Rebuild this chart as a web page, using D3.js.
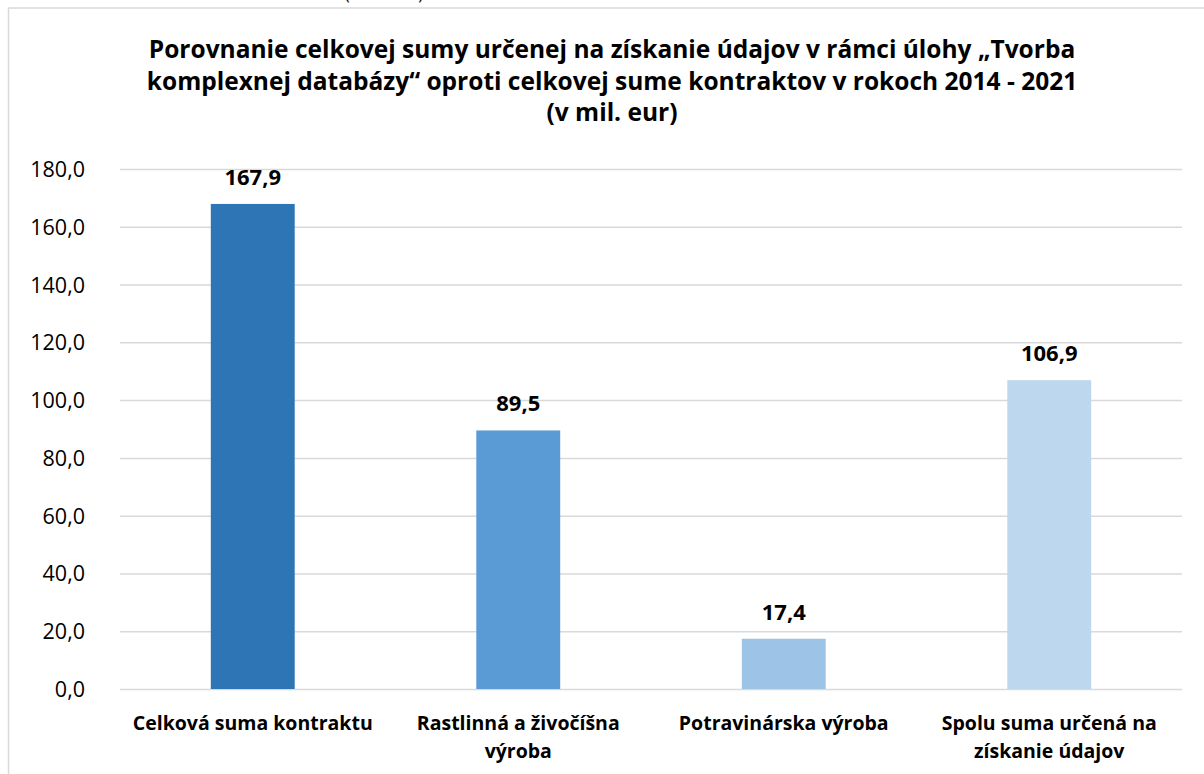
<!DOCTYPE html>
<html>
<head>
<meta charset="utf-8">
<script src="https://cdn.jsdelivr.net/npm/d3@7"></script>
<style>
  body { margin: 0; background: #fff; }
  svg text { font-family: "Open Sans", "Noto Sans", "Liberation Sans", sans-serif; fill: #000; }
</style>
</head>
<body>
<div id="chart"></div>
<script>
var categories = ['Celková suma kontraktu', 'Rastlinná a živočíšna výroba', 'Potravinárska výroba', 'Spolu suma určená na získanie údajov'];
var categoryLines = [['Celková suma kontraktu'], ['Rastlinná a živočíšna', 'výroba'], ['Potravinárska výroba'], ['Spolu suma určená na', 'získanie údajov']];
var values = [167.9, 89.5, 17.4, 106.9];
var barColors = ['#2E75B6', '#5B9BD5', '#9DC3E6', '#BDD7EE'];
var yTicks = [0, 20, 40, 60, 80, 100, 120, 140, 160, 180];
var titleLines = ['Porovnanie celkovej sumy určenej na získanie údajov v rámci úlohy „Tvorba', 'komplexnej databázy“ oproti celkovej sume kontraktov v rokoch 2014 - 2021', '(v mil. eur)'];

var W = 1204, H = 774;
var margin = {top: 169, right: 22, bottom: 85, left: 120};
var width = W - margin.left - margin.right;
var height = H - margin.top - margin.bottom;

var fmt = function(v){ return d3.format('.1f')(v).replace('.', ','); };

var root = d3.select('#chart').append('svg')
  .attr('width', W).attr('height', H);

// chart frame
root.append('rect')
  .attr('x', 8.5).attr('y', 8)
  .attr('width', W + 10).attr('height', H + 10)
  .attr('fill', 'none').attr('stroke', '#d9d9d9').attr('stroke-width', 1.5);

// text from the page above, cut off by the picture edge
root.append('text')
  .attr('x', 384).attr('y', 0)
  .attr('text-anchor', 'middle')
  .style('font-size', '16px')
  .text('(v mil. eur)');

root.selectAll('.title')
  .data(titleLines)
  .enter().append('text')
  .attr('class', 'title')
  .attr('x', 612)
  .attr('y', function(d, i){ return 58 + i * 31.5; })
  .attr('text-anchor', 'middle')
  .style('font-size', '24.5px').style('font-weight', 'bold')
  .text(function(d){ return d; });

var svg = root.append('g')
  .attr('transform', 'translate(' + margin.left + ',' + margin.top + ')');

var x = d3.scaleBand()
  .domain(categories)
  .range([0, width])
  .paddingInner(0.684)
  .paddingOuter(0.342);

var y = d3.scaleLinear()
  .domain([0, 180])
  .range([height, 0]);

// gridlines
svg.append('g')
  .attr('class', 'grid')
  .call(d3.axisLeft(y).tickValues(yTicks).tickSize(-width).tickFormat(''))
  .call(function(g){ g.select('.domain').remove(); })
  .selectAll('line')
  .attr('stroke', '#d9d9d9').attr('stroke-width', 1.5);

// y tick labels
svg.append('g')
  .call(d3.axisLeft(y).tickValues(yTicks).tickSize(0).tickPadding(35).tickFormat(fmt))
  .call(function(g){ g.select('.domain').remove(); })
  .selectAll('text')
  .style('font-size', '21.5px')
  .attr('dy', '0.35em');

// bars
svg.selectAll('.bar')
  .data(values)
  .enter().append('rect')
  .attr('class', 'bar')
  .attr('x', function(d, i){ return x(categories[i]); })
  .attr('y', function(d){ return y(d); })
  .attr('width', x.bandwidth())
  .attr('height', function(d){ return height - y(d); })
  .attr('fill', function(d, i){ return barColors[i]; });

// value labels
svg.selectAll('.val')
  .data(values)
  .enter().append('text')
  .attr('class', 'val')
  .attr('x', function(d, i){ return x(categories[i]) + x.bandwidth() / 2; })
  .attr('y', function(d){ return y(d) - 19; })
  .attr('text-anchor', 'middle')
  .style('font-size', '22px').style('font-weight', 'bold')
  .text(fmt);

// category labels
var catG = svg.selectAll('.cat')
  .data(categoryLines)
  .enter().append('text')
  .attr('class', 'cat')
  .attr('text-anchor', 'middle')
  .attr('transform', function(d, i){
    return 'translate(' + (x(categories[i]) + x.bandwidth() / 2) + ',' + (height + 41) + ')';
  })
  .style('font-size', '19.5px').style('font-weight', 'bold');

catG.selectAll('tspan')
  .data(function(d){ return d; })
  .enter().append('tspan')
  .attr('x', 0)
  .attr('dy', function(d, i){ return i === 0 ? 0 : 28; })
  .text(function(d){ return d; });
</script>
</body>
</html>
